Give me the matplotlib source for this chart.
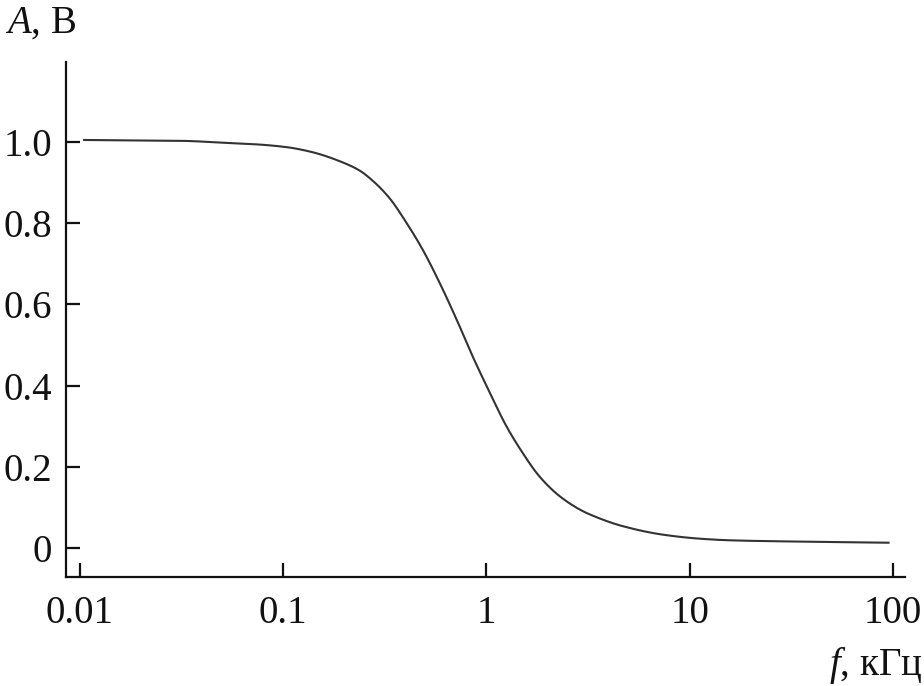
import matplotlib
matplotlib.use("Agg")
import matplotlib.pyplot as plt
from matplotlib import font_manager
import numpy as np

serif_name = 'Liberation Serif'
names = {f.name for f in font_manager.fontManager.ttflist}
for cand in ['Liberation Serif', 'Times New Roman', 'Tinos', 'Nimbus Roman', 'DejaVu Serif']:
    if cand in names:
        serif_name = cand
        break

plt.rcParams['font.family'] = [serif_name, 'DejaVu Serif']
plt.rcParams['mathtext.fontset'] = 'custom'
plt.rcParams['mathtext.it'] = serif_name + ':italic'
plt.rcParams['mathtext.rm'] = serif_name

freq_khz = [0.01035, 0.0309, 0.0562, 0.0748, 0.105, 0.139, 0.189, 0.237, 0.275,
            0.333, 0.404, 0.484, 0.587, 0.711, 0.853, 1.035,
            1.253, 1.503, 1.824, 2.286, 2.871, 3.214, 4.667, 7.345, 11.17,
            15.67, 32.0, 96.2]
amplitude = [1.005, 1.003, 0.997, 0.994, 0.987, 0.975, 0.953, 0.930, 0.905,
             0.862, 0.801, 0.736, 0.654, 0.564, 0.473, 0.384,
             0.300, 0.235, 0.176, 0.128, 0.095, 0.083, 0.054, 0.033, 0.023,
             0.019, 0.016, 0.013]

x_ticks = [0.01, 0.1, 1, 10, 100]
x_tick_labels = ['0.01', '0.1', '1', '10', '100']
y_ticks = [0, 0.2, 0.4, 0.6, 0.8, 1.0]
y_tick_labels = ['0', '0.2', '0.4', '0.6', '0.8', '1.0']


def pchip(x, y, xn):
    h = np.diff(x)
    d = np.diff(y) / h
    m = np.zeros_like(y)
    for k in range(1, len(y) - 1):
        if d[k - 1] * d[k] <= 0:
            m[k] = 0
        else:
            w1 = 2 * h[k] + h[k - 1]
            w2 = h[k] + 2 * h[k - 1]
            m[k] = (w1 + w2) / (w1 / d[k - 1] + w2 / d[k])
    m[0] = d[0]
    m[-1] = d[-1]
    idx = np.clip(np.searchsorted(x, xn) - 1, 0, len(h) - 1)
    t = (xn - x[idx]) / h[idx]
    h00 = 2 * t**3 - 3 * t**2 + 1
    h10 = t**3 - 2 * t**2 + t
    h01 = -2 * t**3 + 3 * t**2
    h11 = t**3 - t**2
    return h00 * y[idx] + h10 * h[idx] * m[idx] + h01 * y[idx + 1] + h11 * h[idx] * m[idx + 1]


fig = plt.figure(figsize=(9.24, 6.86), dpi=100)
ax = fig.add_axes([0.0714, 0.1589, 0.908, 0.7507])

lx = np.log10(freq_khz)
ly = np.array(amplitude)
xs = np.linspace(lx[0], lx[-1], 800)
ys = pchip(lx, ly, xs)
ax.plot(10**xs, ys, color='#333333', lw=1.5, solid_capstyle='butt')

ax.set_xscale('log')
ax.set_xlim(10**-2.069, 10**2.059)
ax.set_ylim(-0.0714, 1.197)

ax.set_xticks(x_ticks)
ax.set_xticklabels(x_tick_labels)
ax.xaxis.set_minor_locator(matplotlib.ticker.NullLocator())
ax.set_yticks(y_ticks)
ax.set_yticklabels(y_tick_labels)

for s in ['top', 'right']:
    ax.spines[s].set_visible(False)
for s in ['left', 'bottom']:
    ax.spines[s].set_linewidth(1.6)
    ax.spines[s].set_color('#111111')

ax.tick_params(axis='both', direction='in', length=10, width=1.6, color='#111111',
               labelsize=28, labelcolor='#111111')
ax.tick_params(axis='x', pad=13)
ax.tick_params(axis='y', pad=10)

fig.text(0.005, 0.952, r'$\mathit{A}$, В', fontsize=28, color='#111111', ha='left', va='baseline')
fig.text(0.998, 0.016, r'$\mathit{f}$, кГц', fontsize=28, color='#111111', ha='right', va='baseline')

fig.savefig('out.png', dpi=100)
